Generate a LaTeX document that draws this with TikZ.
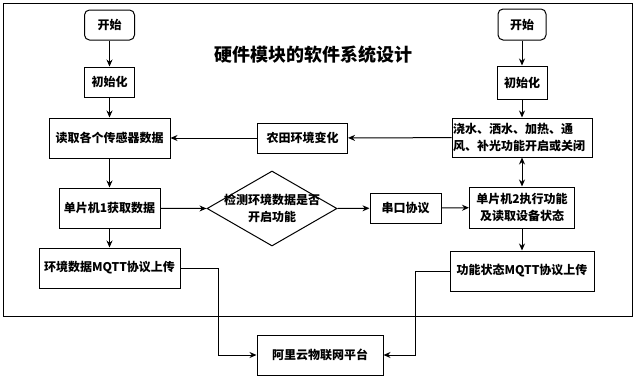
\documentclass[tikz,border=0pt]{standalone}
\usepackage{fontspec}
\setmainfont{Noto Sans CJK SC}
\usetikzlibrary{shapes.geometric,arrows.meta}
\begin{document}
\begin{tikzpicture}[x=1pt,y=-1pt,
  every node/.style={font=\fontsize{12}{17}\selectfont\bfseries},
  box/.style={draw, line width=1pt, inner sep=0pt, align=center},
  arr/.style={line width=1pt, -{Stealth[length=7pt,width=6pt]}},
  darr/.style={line width=1pt, {Stealth[length=7pt,width=6pt]}-{Stealth[length=7pt,width=6pt]}}]
\useasboundingbox (0,0) rectangle (637,380);
\draw[line width=1pt] (3,3) rectangle (632,316);
\node[font=\fontsize{18}{22}\selectfont\bfseries] (title) at (313,55) {硬件模块的软件系统设计};
% left column
\node[box, rounded corners=5pt, minimum width=50, minimum height=30] (ls) at (109.5,25) {开始};
\node[box, minimum width=50, minimum height=30] (li) at (109.5,82) {初始化};
\node[box, minimum width=121, minimum height=40] (rd) at (109.5,138) {读取各个传感器数据};
\node[box, minimum width=101, minimum height=40] (m1) at (109.5,208) {单片机1获取数据};
\node[box, minimum width=141, minimum height=40] (env) at (109.5,268) {环境数据MQTT协议上传};
% middle
\node[draw, line width=1pt, diamond, inner sep=0pt, minimum width=130, minimum height=75] (dia) at (272,208.5) {};
\node[align=center, inner sep=0pt] (diat) at (dia.center) {检测环境数据是否\\开启功能};
\node[box, minimum width=71, minimum height=30] (sp) at (405.5,208) {串口协议};
\node[box, minimum width=90, minimum height=30] (nt) at (302.5,138) {农田环境变化};
\node[box, minimum width=126, minimum height=40] (al) at (320,355) {阿里云物联网平台};
% right column
\node[box, rounded corners=5pt, minimum width=48, minimum height=31] (rs) at (522,24.5) {开始};
\node[box, minimum width=50, minimum height=33] (ri) at (522,82.5) {初始化};
\node[box, minimum width=140, minimum height=39, text width=138, align=left, inner sep=1pt] (js) at (522,137.5) {浇水、洒水、加热、通\\风、补光功能开启或关闭};
\node[box, minimum width=105, minimum height=41] (m2) at (522,207.5) {单片机2执行功能\\及读取设备状态};
\node[box, minimum width=144, minimum height=40] (fs) at (522,271) {功能状态MQTT协议上传};
% connectors
\draw[arr] (ls) -- (li);
\draw[arr] (li) -- (rd);
\draw[arr] (rd) -- (m1);
\draw[arr] (m1) -- (env);
\draw[arr] (m1) -- (dia.west);
\draw[arr] (dia.east) -- (sp);
\draw[arr] (sp) -- (m2);
\draw[arr] (nt) -- (rd);
\draw[arr] (js) -- (nt);
\draw[arr] (rs) -- (ri);
\draw[arr] (ri) -- (js);
\draw[darr] (js) -- (m2);
\draw[arr] (m2) -- (fs);
\draw[arr] (env.east) -- ++(38,0) |- (al.west);
\draw[arr] (fs.west) -- ++(-34,0) |- (al.east);
\end{tikzpicture}
\end{document}
